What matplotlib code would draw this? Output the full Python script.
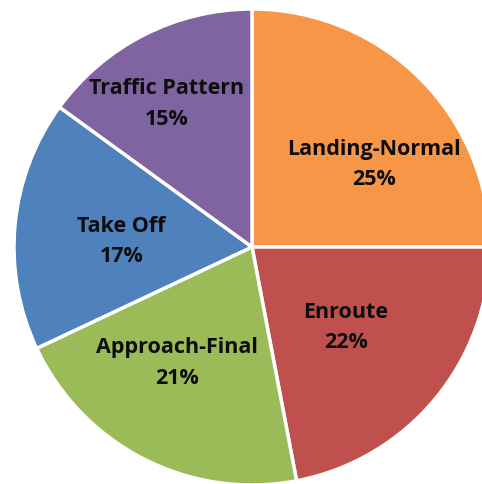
import numpy as np
import matplotlib
matplotlib.use("Agg")
import matplotlib.pyplot as plt

# pie data, clockwise from 12 o'clock
categories = ["Landing-Normal", "Enroute", "Approach-Final", "Take Off", "Traffic Pattern"]
shares = [25, 22, 21, 17, 15]
colors = ["#F79646", "#C0504D", "#9BBB59", "#4F81BD", "#8064A2"]

# where each label sits: fraction of radius and nudge of angle (degrees)
label_dist = [0.62, 0.52, 0.58, 0.55, 0.70]
label_turn = [-11, -1, -6, 3, 4]

plt.rcParams['font.family'] = ['Open Sans', 'DejaVu Sans']

fig = plt.figure(figsize=(4.82, 4.84), dpi=100)
ax = fig.add_axes([0, 0, 1, 1])

wedges, _ = ax.pie(shares, colors=colors, startangle=90, counterclock=False,
                   radius=1.0, wedgeprops=dict(edgecolor="white", linewidth=2.5))

for w, name, val, d, t in zip(wedges, categories, shares, label_dist, label_turn):
    mid = np.deg2rad((w.theta1 + w.theta2) / 2 + t)
    ax.text(d * np.cos(mid), d * np.sin(mid), f"{name}\n{val}%",
            ha="center", va="center", fontsize=15.5, fontweight="bold",
            color="#0d0d0d", linespacing=1.6)

# pie centre ~ (252, 247) px, radius ~ 238 px, chart is cut at right/bottom
r_px = 238.0
ax.set_aspect("auto")
ax.set_xlim(-252 / r_px, (482 - 252) / r_px)
ax.set_ylim(-(484 - 247) / r_px, 247 / r_px)
ax.axis("off")

fig.savefig("out.png", dpi=100)
